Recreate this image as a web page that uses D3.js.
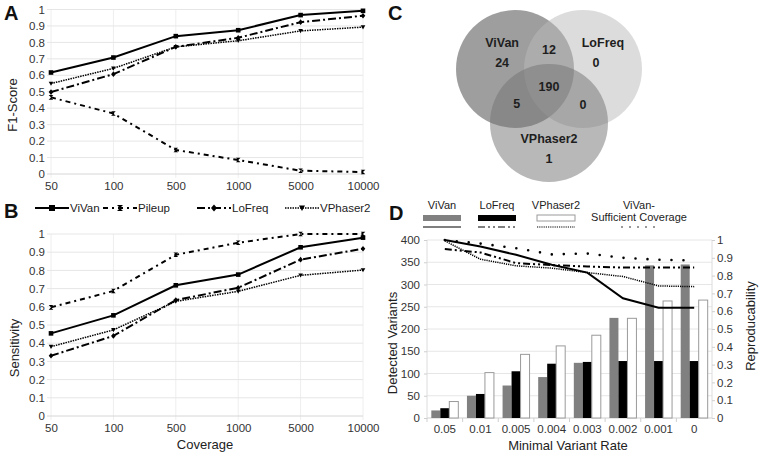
<!DOCTYPE html>
<html>
<head>
<meta charset="utf-8">
<script src="https://cdn.jsdelivr.net/npm/d3@7"></script>
<style>
  body { margin: 0; background: #fff; }
  svg { font-family: "Liberation Sans", Arial, sans-serif; }
  .tick text { fill: #333; }
</style>
</head>
<body>
<svg id="chart" width="760" height="456"></svg>
<script>
// ---- data ----
var coverage = ["50", "100", "500", "1000", "5000", "10000"];
var f1ViVan = [0.617, 0.708, 0.838, 0.874, 0.966, 0.992];
var f1Pileup = [0.466, 0.368, 0.146, 0.085, 0.02, 0.012];
var f1LoFreq = [0.498, 0.607, 0.773, 0.828, 0.923, 0.962];
var f1VPhaser2 = [0.55, 0.642, 0.773, 0.81, 0.87, 0.893];

var sensViVan = [0.454, 0.553, 0.718, 0.777, 0.927, 0.98];
var sensPileup = [0.597, 0.687, 0.886, 0.952, 1.0, 1.0];
var sensLoFreq = [0.331, 0.44, 0.637, 0.705, 0.859, 0.919];
var sensVPhaser2 = [0.381, 0.473, 0.63, 0.685, 0.773, 0.802];

var callers = ["ViVan", "Pileup", "LoFreq", "VPhaser2"];

var vennSets = ["ViVan", "LoFreq", "VPhaser2"];
var vennRegions = [["ViVan"], ["LoFreq"], ["VPhaser2"], ["ViVan", "LoFreq"], ["ViVan", "VPhaser2"], ["LoFreq", "VPhaser2"], ["ViVan", "LoFreq", "VPhaser2"]];
var vennCounts = [24, 0, 1, 12, 5, 0, 190];

var rates = ["0.05", "0.01", "0.005", "0.004", "0.003", "0.002", "0.001", "0"];
var detViVan = [17, 50, 73, 92, 124, 225, 343, 345];
var detLoFreq = [22, 54, 105, 122, 126, 128, 128, 128];
var detVPhaser2 = [37, 102, 143, 162, 186, 224, 263, 265];
var repViVan = [1.0, 0.963, 0.917, 0.861, 0.817, 0.673, 0.62, 0.62];
var repLoFreq = [0.949, 0.93, 0.87, 0.859, 0.851, 0.845, 0.845, 0.845];
var repVPhaser2 = [0.995, 0.892, 0.855, 0.842, 0.817, 0.795, 0.742, 0.738];
var repViVanSuff = [1.0, 0.98, 0.954, 0.919, 0.924, 0.9, 0.889, 0.885];

// ---- styles ----
var lineStyle = {
  ViVan:    {dash: null,        width: 2,   marker: "square"},
  Pileup:   {dash: "5,4,2,4",   width: 2,   marker: "hourglass"},
  LoFreq:   {dash: "8,3,2,3",   width: 2,   marker: "diamond"},
  VPhaser2: {dash: "1.5,1",     width: 1.5, marker: "triangle"}
};
var tickFont = "11.5px", titleFont = "13px";

var svg = d3.select("#chart");

function markerPath(kind, s) {
  if (kind == "square") return "M" + (-s) + "," + (-s) + "h" + 2*s + "v" + 2*s + "h" + (-2*s) + "Z";
  if (kind == "hourglass") return "M" + (-s) + "," + (-s) + "L" + s + "," + (-s) + "L" + (-s) + "," + s + "L" + s + "," + s + "Z";
  if (kind == "diamond") return "M0," + (-s-0.5) + "L" + s + ",0L0," + (s+0.5) + "L" + (-s) + ",0Z";
  return "M" + (-s) + "," + (-s*0.8) + "L" + s + "," + (-s*0.8) + "L0," + s + "Z";
}

function panelLabel(txt, x, y) {
  svg.append("text").attr("x", x).attr("y", y)
    .style("font-size", "20px").style("font-weight", "bold").attr("fill", "#111").text(txt);
}

function rotLabel(txt, x, y) {
  svg.append("text").attr("transform", "translate(" + x + "," + y + ") rotate(-90)")
    .attr("text-anchor", "middle").attr("dy", "0.35em")
    .style("font-size", titleFont).attr("fill", "#222").text(txt);
}

// line panels A and B
function linePanel(series, top, bottom) {
  var x = d3.scalePoint().domain(coverage).range([51, 363]);
  var y = d3.scaleLinear().domain([0, 1]).range([bottom, top]);
  var g = svg.append("g");
  var ticks = d3.range(0, 11).map(function(d) { return d / 10; });

  g.selectAll(".vgrid").data(coverage).enter().append("line")
    .attr("x1", function(d) { return x(d); }).attr("x2", function(d) { return x(d); })
    .attr("y1", top).attr("y2", bottom + 4)
    .attr("stroke", "#eeeeee");
  g.selectAll(".hgrid").data(ticks).enter().append("line")
    .attr("x1", 47).attr("x2", 363)
    .attr("y1", function(d) { return y(d); }).attr("y2", function(d) { return y(d); })
    .attr("stroke", function(d) { return d == 0 ? "#d6d6d6" : "#e6e6e6"; });

  var ya = g.append("g").attr("transform", "translate(50,0)")
    .call(d3.axisLeft(y).tickValues(ticks).tickSize(0).tickPadding(5)
      .tickFormat(function(d) { return String(+d.toFixed(1)); }));
  ya.select(".domain").remove();
  ya.selectAll("text").style("font-size", tickFont);

  var xa = g.append("g").attr("transform", "translate(0," + bottom + ")")
    .call(d3.axisBottom(x).tickSize(0).tickPadding(8));
  xa.select(".domain").remove();
  xa.selectAll("text").style("font-size", tickFont);

  series.forEach(function(s) {
    var st = lineStyle[s.name];
    var line = d3.line()
      .x(function(d, i) { return x(coverage[i]); })
      .y(function(d) { return y(d); });
    g.append("path").datum(s.values)
      .attr("d", line).attr("fill", "none").attr("stroke", "#000")
      .attr("stroke-width", st.width).attr("stroke-dasharray", st.dash);
    g.selectAll(null).data(s.values).enter().append("path")
      .attr("transform", function(d, i) { return "translate(" + x(coverage[i]) + "," + y(d) + ")"; })
      .attr("d", markerPath(st.marker, 2.3)).attr("fill", "#000");
  });
}

linePanel([
  {name: "ViVan", values: f1ViVan},
  {name: "Pileup", values: f1Pileup},
  {name: "LoFreq", values: f1LoFreq},
  {name: "VPhaser2", values: f1VPhaser2}
], 9.5, 174);
panelLabel("A", 4, 20);
rotLabel("F1-Score", 12, 105);

linePanel([
  {name: "ViVan", values: sensViVan},
  {name: "Pileup", values: sensPileup},
  {name: "LoFreq", values: sensLoFreq},
  {name: "VPhaser2", values: sensVPhaser2}
], 234, 416);
panelLabel("B", 4, 218);
rotLabel("Sensitivity", 14, 348);
svg.append("text").attr("x", 205).attr("y", 449).attr("text-anchor", "middle")
  .style("font-size", titleFont).attr("fill", "#222").text("Coverage");

// legend for B
var legB = svg.append("g").attr("transform", "translate(0,208)");
var legX = [35, 103, 197, 285];
callers.forEach(function(c, i) {
  var st = lineStyle[c];
  var it = legB.append("g").attr("transform", "translate(" + legX[i] + ",0)");
  it.append("line").attr("x1", 0).attr("x2", 34).attr("stroke", "#000")
    .attr("stroke-width", st.width).attr("stroke-dasharray", st.dash);
  it.append("path").attr("transform", "translate(17,0)").attr("d", markerPath(st.marker, 3)).attr("fill", "#000");
  it.append("text").attr("x", 35).attr("dy", "0.35em").style("font-size", tickFont).attr("fill", "#222").text(c);
});

// ---- C: venn ----
panelLabel("C", 388, 20);
var vennR = 59;
var vennMid = [549, 87];
// centres placed on a triangle around the middle point
var vennCentres = {
  ViVan: [vennMid[0] - 34, vennMid[1] - 18],
  LoFreq: [vennMid[0] + 34, vennMid[1] - 18],
  VPhaser2: [vennMid[0], vennMid[1] + 36]
};
var vennFill = {ViVan: "#3d3d3d", LoFreq: "#b9b9b9", VPhaser2: "#717171"};
svg.selectAll(".venn").data(vennSets).enter().append("circle")
  .attr("class", "venn")
  .attr("cx", function(d) { return vennCentres[d][0]; })
  .attr("cy", function(d) { return vennCentres[d][1]; })
  .attr("r", vennR)
  .attr("fill", function(d) { return vennFill[d]; })
  .attr("fill-opacity", 0.5);

// label push away from the middle, per region
var vennPush = [0.38, 0.38, 0.98, 1.05, 0.9, 1.0, 0];
var vennText = svg.append("g");
function vennLabel(x, y, t) {
  vennText.append("text").attr("x", x).attr("y", y).attr("dy", "0.35em")
    .attr("text-anchor", "middle").attr("fill", "#1e1e1e")
    .style("font-size", "12.5px").style("font-weight", "bold").text(t);
}
vennRegions.forEach(function(r, i) {
  var cx = d3.mean(r, function(s) { return vennCentres[s][0]; });
  var cy = d3.mean(r, function(s) { return vennCentres[s][1]; });
  var px = cx + (cx - vennMid[0]) * vennPush[i];
  var py = cy + (cy - vennMid[1]) * vennPush[i];
  vennLabel(px, py, vennCounts[i]);
  if (r.length == 1) vennLabel(px + (r[0] == "LoFreq" ? 7 : 0), py - 20, r[0]);
});

// ---- D: bars + reproducibility ----
panelLabel("D", 389, 220);
var dTop = 240, dBot = 418;
var xD = d3.scaleBand().domain(rates).range([427, 712]);
var xIn = d3.scaleBand().domain(["ViVan", "LoFreq", "VPhaser2"]).range([0, xD.bandwidth()]).paddingOuter(0.48);
var yL = d3.scaleLinear().domain([0, 400]).range([dBot, dTop]);
var yR = d3.scaleLinear().domain([0, 1]).range([dBot, dTop]);
var gD = svg.append("g");

gD.selectAll(".hg").data(yL.ticks(8)).enter().append("line")
  .attr("x1", 427).attr("x2", 712)
  .attr("y1", function(d) { return yL(d); }).attr("y2", function(d) { return yL(d); })
  .attr("stroke", function(d) { return d == 0 ? "#cfcfcf" : "#e6e6e6"; });
gD.append("line").attr("x1", 712).attr("x2", 712).attr("y1", dTop).attr("y2", dBot).attr("stroke", "#dcdcdc");
gD.append("line").attr("x1", 427).attr("x2", 427).attr("y1", dTop).attr("y2", dBot).attr("stroke", "#dcdcdc");
gD.selectAll(".sep").data(rates).enter().append("line")
  .attr("x1", function(d) { return xD(d); }).attr("x2", function(d) { return xD(d); })
  .attr("y1", dBot).attr("y2", dBot + 4).attr("stroke", "#cfcfcf");

var la = gD.append("g").attr("transform", "translate(427,0)")
  .call(d3.axisLeft(yL).ticks(8).tickSize(3).tickPadding(4));
la.select(".domain").remove();
la.selectAll("line").attr("stroke", "#cfcfcf");
la.selectAll("text").style("font-size", tickFont);

var ra = gD.append("g").attr("transform", "translate(712,0)")
  .call(d3.axisRight(yR).ticks(10).tickSize(3).tickPadding(2)
    .tickFormat(function(d) { return String(+d.toFixed(1)); }));
ra.select(".domain").remove();
ra.selectAll("line").attr("stroke", "#cfcfcf");
ra.selectAll("text").style("font-size", tickFont);

var ba = gD.append("g").attr("transform", "translate(0," + dBot + ")")
  .call(d3.axisBottom(xD).tickSize(0).tickPadding(7));
ba.select(".domain").remove();
ba.selectAll("text").style("font-size", tickFont);

var barSeries = [
  {name: "ViVan", values: detViVan, fill: "#808080", stroke: "none"},
  {name: "LoFreq", values: detLoFreq, fill: "#000", stroke: "none"},
  {name: "VPhaser2", values: detVPhaser2, fill: "#fff", stroke: "#9a9a9a"}
];
barSeries.forEach(function(s) {
  gD.selectAll(null).data(s.values).enter().append("rect")
    .attr("x", function(d, i) { return xD(rates[i]) + xIn(s.name); })
    .attr("width", xIn.bandwidth())
    .attr("y", function(d) { return yL(d); })
    .attr("height", function(d) { return dBot - yL(d); })
    .attr("fill", s.fill).attr("stroke", s.stroke);
});

var repSeries = [
  {name: "ViVan", values: repViVan, dash: null, width: 2, cap: "butt"},
  {name: "LoFreq", values: repLoFreq, dash: "7,3,2,3,2,3", width: 2, cap: "butt"},
  {name: "VPhaser2", values: repVPhaser2, dash: "1.2,1", width: 1.5, cap: "butt"},
  {name: "ViVanSuff", values: repViVanSuff, dash: "0,12", width: 2.6, cap: "round"}
];
repSeries.forEach(function(s) {
  var line = d3.line()
    .x(function(d, i) { return xD(rates[i]) + xD.bandwidth() / 2; })
    .y(function(d) { return yR(d); });
  gD.append("path").datum(s.values).attr("d", line)
    .attr("fill", "none").attr("stroke", "#000")
    .attr("stroke-width", s.width).attr("stroke-dasharray", s.dash)
    .attr("stroke-linecap", s.cap);
});

// legend D
var legD = svg.append("g").style("font-size", "11px").attr("fill", "#222").attr("text-anchor", "middle");
var legDItems = [
  {label: ["ViVan"], x: 423, fill: "#808080", stroke: "none", rep: repSeries[0]},
  {label: ["LoFreq"], x: 478, fill: "#000", stroke: "none", rep: repSeries[1]},
  {label: ["VPhaser2"], x: 537, fill: "#fff", stroke: "#9a9a9a", rep: repSeries[2]},
  {label: ["ViVan-", "Sufficient Coverage"], x: 620, fill: null, rep: repSeries[3]}
];
legDItems.forEach(function(it) {
  var w = 38;
  it.label.forEach(function(t, j) {
    legD.append("text").attr("x", it.x + w / 2).attr("y", 209 + j * 12).text(t);
  });
  if (it.fill) {
    legD.append("rect").attr("x", it.x).attr("y", 215).attr("width", w).attr("height", 6)
      .attr("fill", it.fill).attr("stroke", it.stroke);
  }
  legD.append("line").attr("x1", it.x + (it.fill ? 0 : 2)).attr("x2", it.x + w).attr("y1", 227).attr("y2", 227)
    .attr("stroke", "#000").attr("stroke-width", it.rep.width > 2 ? 1.5 : 1.2)
    .attr("stroke-dasharray", it.rep.name == "ViVanSuff" ? "0,8" : it.rep.dash)
    .attr("stroke-linecap", it.rep.cap);
});

rotLabel("Detected Variants", 392, 343);
rotLabel("Reproducability", 750, 326);
svg.append("text").attr("x", 568).attr("y", 450).attr("text-anchor", "middle")
  .style("font-size", titleFont).attr("fill", "#222").text("Minimal Variant Rate");
</script>
</body>
</html>
